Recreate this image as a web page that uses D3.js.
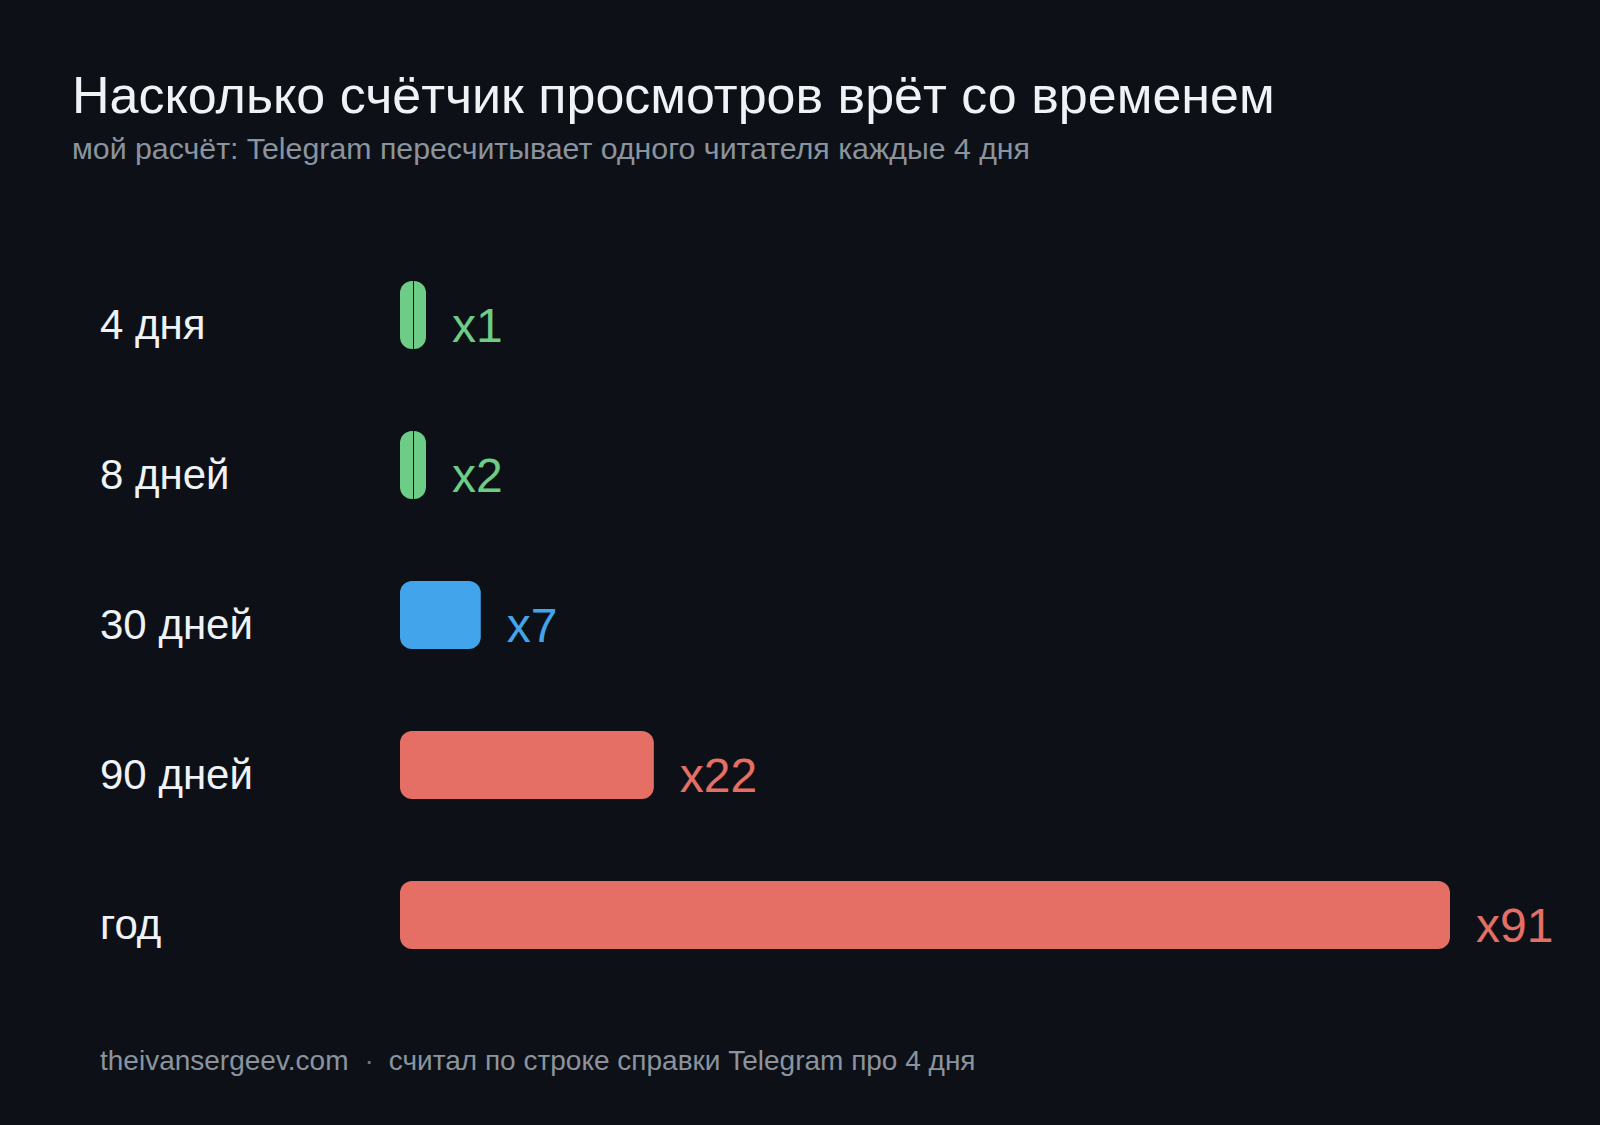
<!DOCTYPE html>
<html lang="ru">
<head>
<meta charset="utf-8">
<title>Насколько счётчик просмотров врёт со временем</title>
<script src="https://cdn.jsdelivr.net/npm/d3@7"></script>
<style>
    html, body { margin: 0; padding: 0; background: #0d1117; }
    svg { display: block; font-family: "Liberation Sans", Arial, sans-serif; }
</style>
</head>
<body>
<svg id="chart" width="1600" height="1125"></svg>
<script>
// data
const periods = ["4 дня", "8 дней", "30 дней", "90 дней", "год"];
const multipliers = [1, 2, 7, 22, 91];
const valueLabels = ["x1", "x2", "x7", "x22", "x91"];

const title = "Насколько счётчик просмотров врёт со временем";
const subtitle = "мой расчёт: Telegram пересчитывает одного читателя каждые 4 дня";
const footerSite = "theivansergeev.com";
const footerNote = "считал по строке справки Telegram про 4 дня";

const width = 1600, height = 1125;
const bg = "#0d1117";
const barH = 68;
const minBarW = 26;

const svg = d3.select("#chart");

svg.append("rect")
    .attr("width", width)
    .attr("height", height)
    .attr("fill", bg);

const x = d3.scaleLinear()
    .domain([0, d3.max(multipliers)])
    .range([400, 1450]);

const y = d3.scalePoint()
    .domain(periods)
    .range([315, 915]);

// green for honest-ish, blue for noticeable, red for way off
const color = d3.scaleThreshold()
    .domain([5, 10])
    .range(["#6dcc85", "#42a4ea", "#e56e65"]);

// header
svg.append("text")
    .attr("x", 72)
    .attr("y", 113)
    .attr("fill", "#f0f3f6")
    .attr("font-size", "52px")
    .text(title);

svg.append("text")
    .attr("x", 72)
    .attr("y", 159)
    .attr("fill", "#8b949e")
    .attr("font-size", "30.3px")
    .text(subtitle);

const rows = periods.map((p, i) => ({
    period: p,
    value: multipliers[i],
    label: valueLabels[i]
}));

const row = svg.selectAll("g.row")
    .data(rows)
    .join("g")
    .attr("class", "row");

row.append("text")
    .attr("x", 100)
    .attr("y", d => y(d.period) + 24)
    .attr("fill", "#f0f3f6")
    .attr("font-size", "42px")
    .text(d => d.period);

const barW = d => Math.max(minBarW, x(d.value) - x(0));

row.append("rect")
    .attr("x", x(0))
    .attr("y", d => y(d.period) - barH / 2)
    .attr("width", barW)
    .attr("height", barH)
    .attr("rx", 12)
    .attr("ry", 12)
    .attr("fill", d => color(d.value));

// the tiny bars show a thin seam down the middle
row.filter(d => x(d.value) - x(0) < minBarW)
    .append("line")
    .attr("x1", x(0) + minBarW / 2 + 0.5)
    .attr("x2", x(0) + minBarW / 2 + 0.5)
    .attr("y1", d => y(d.period) - barH / 2)
    .attr("y2", d => y(d.period) + barH / 2)
    .attr("stroke", bg)
    .attr("stroke-width", 1);

row.append("text")
    .attr("x", d => x(0) + barW(d) + 26)
    .attr("y", d => y(d.period) + 27)
    .attr("fill", d => color(d.value))
    .attr("font-size", "48px")
    .text(d => d.label);

// footer
const footer = svg.append("text")
    .attr("x", 100)
    .attr("y", 1070)
    .attr("fill", "#8b949e")
    .attr("font-size", "28px");

footer.append("tspan").text(footerSite);
footer.append("tspan").attr("dx", 16).attr("fill", "#6e7681").text("·");
footer.append("tspan").attr("dx", 15).text(footerNote);
</script>
</body>
</html>
